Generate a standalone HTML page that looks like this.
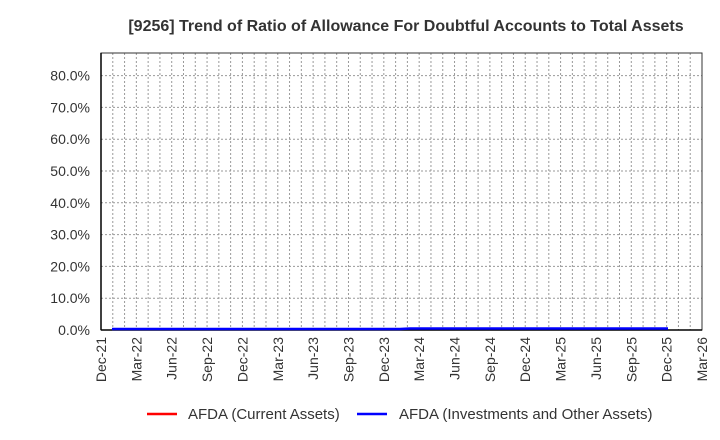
<!DOCTYPE html>
<html><head><meta charset="utf-8"><style>
body{margin:0;background:#fff;}
svg{display:block;font-family:"Liberation Sans",Arial,sans-serif;}
</style></head><body>
<svg id="s" width="720" height="440" xmlns="http://www.w3.org/2000/svg">
<text x="406" y="31" text-anchor="middle" font-size="16" font-weight="bold" fill="#333">[9256]  Trend of Ratio of Allowance For Doubtful Accounts to Total Assets</text>
<g id="g"></g>
<rect x="101" y="53" width="601" height="277" fill="none" stroke="#333" stroke-width="1"/>
<line x1="101" y1="53" x2="101" y2="330" stroke="#000" stroke-width="1.5"/>
<line x1="101" y1="330" x2="702" y2="330" stroke="#000" stroke-width="1.5"/>
<polyline points="112,329 400,329 410,328.5 668,328.5" fill="none" stroke="#0000ff" stroke-width="2.5"/>
<line x1="147" y1="414" x2="177" y2="414" stroke="#ff0000" stroke-width="2.5"/>
<text x="188" y="419" font-size="15" fill="#333">AFDA (Current Assets)</text>
<line x1="357" y1="414" x2="387" y2="414" stroke="#0000ff" stroke-width="2.5"/>
<text x="399" y="419" font-size="15" fill="#333">AFDA (Investments and Other Assets)</text>
</svg>
<script>
var g=document.getElementById('g'),h='';
var x0=101,x1=702,n=51,step=(x1-x0)/n;
for(var i=1;i<n;i++){var x=x0+i*step;h+='<line x1="'+x+'" y1="53" x2="'+x+'" y2="330" stroke="#999" stroke-width="1" stroke-dasharray="2,2"/>';}
for(var k=0;k<=8;k++){var y=330-k*31.8;
 if(k>0)h+='<line x1="101" y1="'+y+'" x2="702" y2="'+y+'" stroke="#999" stroke-width="1" stroke-dasharray="2,2"/>';
 h+='<text x="90" y="'+(y+5)+'" text-anchor="end" font-size="14" fill="#333">'+(k*10)+'.0%</text>';}
var labs=['Dec-21','Mar-22','Jun-22','Sep-22','Dec-22','Mar-23','Jun-23','Sep-23','Dec-23','Mar-24','Jun-24','Sep-24','Dec-24','Mar-25','Jun-25','Sep-25','Dec-25','Mar-26'];
for(var j=0;j<labs.length;j++){var x=x0+j*3*step;
 h+='<text transform="translate('+(x+5)+',337) rotate(-90)" text-anchor="end" font-size="14" fill="#333">'+labs[j]+'</text>';}
g.innerHTML=h;
</script>
</body></html>
